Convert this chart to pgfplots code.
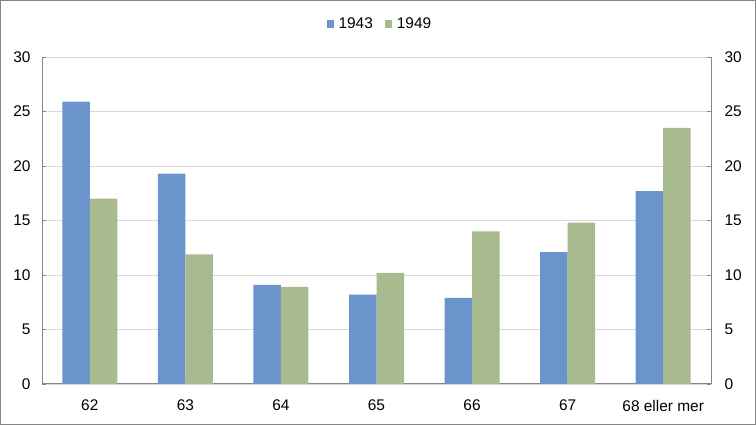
\documentclass[border=0pt]{standalone}
\usepackage{fontspec}
\setmainfont{Liberation Sans}
\usepackage{pgfplots}
\pgfplotsset{compat=1.18}

\definecolor{bar43}{RGB}{108,148,204}
\definecolor{bar49}{RGB}{167,187,142}
\definecolor{axgray}{RGB}{134,134,134}
\definecolor{gridgray}{RGB}{217,217,217}

\pgfplotsset{
  common/.style={
    scale only axis,
    width=669bp, height=327bp,
    at={(42bp,41bp)}, anchor=south west,
    xmin=-0.5, xmax=6.5,
    ymin=0, ymax=30,
    ytick={0,5,...,30},
    tick align=inside,
    major tick length=4.5bp,
    every tick/.style={axgray, line width=0.8bp},
    axis line style={axgray, line width=1bp},
    ticklabel style={font=\fontsize{15.5}{16}\selectfont},
    /pgf/number format/assume math mode=true,
  },
}

\begin{document}
\begin{tikzpicture}
\useasboundingbox (0,0) rectangle (756bp,425bp);

\begin{axis}[
  common,
  axis x line*=bottom,
  axis y line*=left,
  ybar=0pt, bar width=27.5bp,
  xtick={0,...,6},
  xticklabels={62,63,64,65,66,67,68 eller mer},
  x tick style={draw=none},
  x tick label style={yshift=-8bp},
  y tick label style={xshift=-8bp},
  ymajorgrids,
  grid style={gridgray, line width=0.8bp},
  legend columns=-1,
  legend style={at={(0.505,1.101)}, anchor=center, draw=none,
    font=\fontsize{15.5}{16}\selectfont,
    /tikz/every odd column/.append style={column sep=3bp},
    /tikz/every even column/.append style={column sep=10bp}},
  legend image code/.code={\fill[#1] (0bp,-3.6bp) rectangle (7bp,3.6bp);},
]
\addplot[fill=bar43, draw=none] coordinates {
  (0,25.9) (1,19.3) (2,9.1) (3,8.2) (4,7.9) (5,12.1) (6,17.7)};
\addplot[fill=bar49, draw=none] coordinates {
  (0,17.0) (1,11.9) (2,8.9) (3,10.2) (4,14.0) (5,14.8) (6,23.5)};
\legend{1943,1949}
\end{axis}

\begin{axis}[
  common,
  axis x line=none,
  axis y line*=right,
  y tick label style={xshift=10bp},
]
\end{axis}

\draw[axgray, line width=1.4bp] (0.7bp,0.7bp) rectangle (755.3bp,424.3bp);
\end{tikzpicture}
\end{document}
